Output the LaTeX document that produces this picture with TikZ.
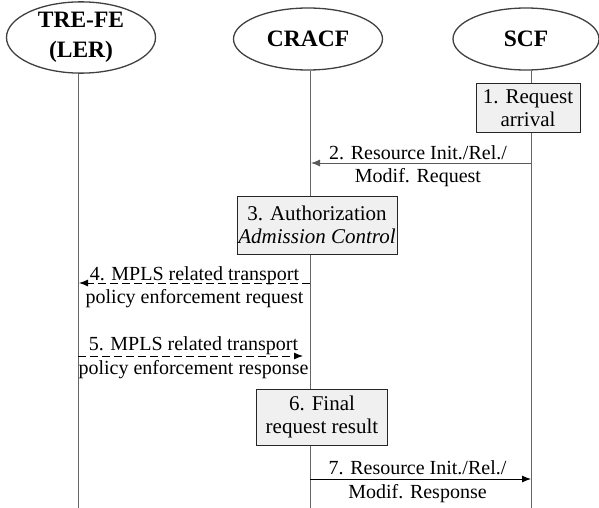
\documentclass[tikz,border=0pt]{standalone}
\usepackage{fontspec}
\setmainfont{Liberation Serif}
\usetikzlibrary{shapes.geometric,arrows.meta}
\begin{document}
\begin{tikzpicture}[x=1pt,y=-1pt,
  actor/.style={ellipse,draw=black!75,line width=1.3pt,minimum width=149pt,minimum height=62pt,inner sep=0pt,font=\fontsize{23.5}{30}\selectfont\bfseries,align=center},
  life/.style={draw=black!60,line width=0.8pt},
  stepbox/.style={draw=black!85,fill=black!6,line width=1pt,font=\fontsize{21}{23.5}\selectfont,align=center,inner sep=0pt},
  lbl/.style={font=\fontsize{20}{23}\selectfont,inner sep=0pt,anchor=base},
  msg/.style={line width=0.9pt,-{Latex[length=9pt,width=7pt]}},
  dmsg/.style={msg,dash pattern=on 8pt off 4pt},
]
\useasboundingbox (0,0) rectangle (599,508);
% actors
\node[actor,minimum height=66pt] (tre) at (81,37.5) {TRE-FE\\(LER)};
\node[actor] (cracf) at (308,39) {CRACF};
\node[actor,minimum width=146pt] (scf) at (526,39) {SCF};
% lifelines
\coordinate (treB) at (78,508);
\coordinate (cracfB) at (310,508);
\coordinate (scfB) at (531,508);
\draw[life] (tre.south -| treB) -- (treB);
\draw[life] (cracf.south -| cracfB) -- (cracfB);
\draw[life] (scf.south -| scfB) -- (scfB);
% steps
\node[stepbox,minimum width=104pt,minimum height=48pt] (s1) at (528,108) {1. Request\\arrival};
\node[stepbox,minimum width=160pt,minimum height=58pt] (s3) at (317,225) {3. Authorization\\\textit{Admission Control}};
\node[stepbox,minimum width=131pt,minimum height=56pt] (s6) at (322,417) {6. Final\\request result};
% messages
\coordinate (m2a) at (531,163);
\coordinate (m2b) at (311,163);
\draw[msg,draw=black!65,fill=black!65] (m2a) -- node[lbl,xshift=-3pt,yshift=4pt]{2. Resource Init./Rel./} node[lbl,xshift=-3pt,yshift=-19pt]{Modif. Request} (m2b);
\coordinate (m4a) at (310,283);
\coordinate (m4b) at (79,283);
\draw[dmsg] (m4a) -- node[lbl,yshift=3pt]{4. MPLS related transport} node[lbl,yshift=-20pt]{policy enforcement request} (m4b);
\coordinate (m5a) at (78,356);
\coordinate (m5b) at (303,356);
\draw[dmsg] (m5a) -- node[lbl,xshift=3pt,yshift=6pt]{5. MPLS related transport} node[lbl,xshift=3pt,yshift=-18pt]{policy enforcement response} (m5b);
\coordinate (m7a) at (310,479);
\coordinate (m7b) at (531,479);
\draw[msg] (m7a) -- node[lbl,xshift=-3pt,yshift=5pt]{7. Resource Init./Rel./} node[lbl,xshift=-3pt,yshift=-19pt]{Modif. Response} (m7b);
\end{tikzpicture}
\end{document}
